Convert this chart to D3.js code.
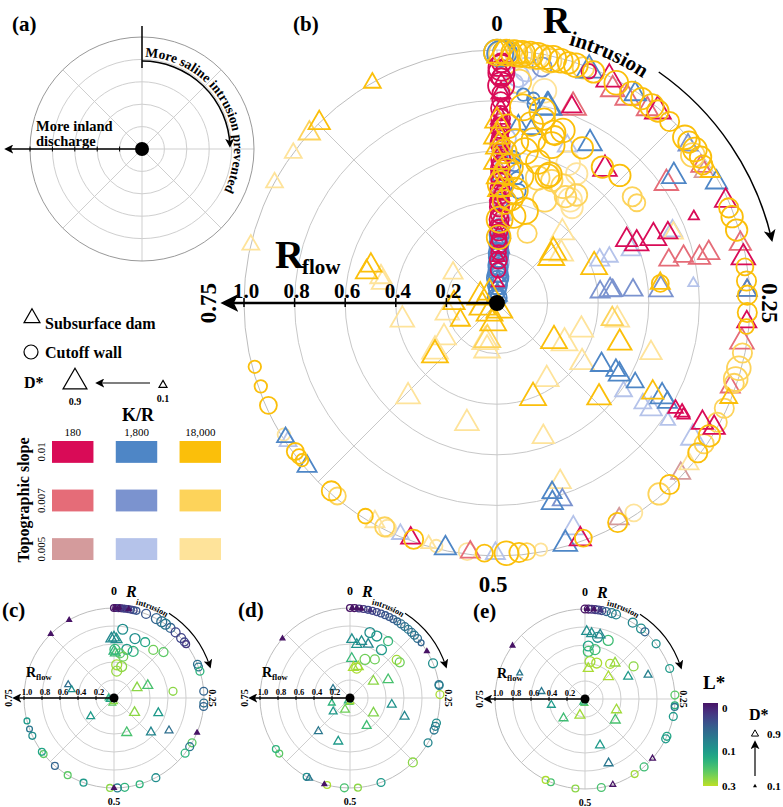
<!DOCTYPE html>
<html><head><meta charset="utf-8">
<script src="https://cdn.jsdelivr.net/npm/d3@7"></script>
<style>body{margin:0;background:#fff}</style>
</head><body>
<script>
// ---------------- DATA ----------------
// Panel (b): rows = [R_intrusion, R_flow, slopeIndex(0:0.01,1:0.007,2:0.005), D*]
const wall18000 = [
 [0.000,0.99,0,0.9],[0.006,0.99,0,0.9],[0.011,0.99,0,0.9],[0.016,0.99,0,0.9],[0.021,0.99,0,0.9],[0.026,0.99,0,0.9],
 [0.031,0.99,0,0.8],[0.036,0.99,0,0.9],[0.041,0.99,0,0.8],[0.046,0.99,0,0.7],[0.051,0.99,0,0.8],[0.056,0.99,1,0.7],
 [0.003,0.985,1,0.9],[0.014,0.985,1,0.9],[0.024,0.985,2,0.9],[0.034,0.98,1,0.8],
 [0.063,0.99,0,0.7],[0.079,0.99,0,0.8],[0.091,0.985,0,0.8],[0.098,0.99,0,0.7],[0.106,0.99,0,0.8],[0.111,0.99,0,0.7],
 [0.121,0.99,0,0.6],[0.135,0.99,0,0.8],[0.139,0.99,0,0.7],[0.145,0.99,0,0.8],[0.151,0.99,0,0.7],[0.147,0.97,1,0.8],
 [0.156,0.98,0,0.6],[0.188,0.99,0,0.6],[0.194,0.99,0,0.7],[0.203,0.99,0,0.7],[0.227,0.99,0,0.5],[0.236,0.99,0,0.6],
 [0.245,0.99,0,0.6],[0.256,0.99,0,0.6],[0.265,0.99,0,0.4],[0.282,0.99,1,0.6],[0.292,0.99,1,0.8],[0.299,0.99,1,0.8],
 [0.302,0.99,1,0.6],[0.319,0.99,1,0.6],[0.329,0.99,1,0.6],[0.339,0.99,0,0.7],[0.345,0.99,1,0.6],[0.352,0.99,0,0.6],
 [0.379,0.99,0,0.6],[0.388,0.99,1,0.7],[0.408,0.99,2,0.5],[0.420,0.99,0,0.6],[0.444,0.99,0,0.5],[0.472,0.99,2,0.3],
 [0.481,0.99,1,0.5],[0.486,0.99,0,0.6],[0.494,0.99,0,0.8],[0.508,0.99,0,0.5],[0.519,0.99,2,0.5],[0.539,0.99,2,0.3],
 [0.554,0.99,0,0.6],[0.572,0.99,2,0.5],[0.574,0.99,1,0.6],[0.588,0.99,0,0.4],[0.610,0.99,1,0.5],[0.615,0.99,0,0.6],
 [0.642,0.99,0,0.3],[0.645,0.99,0,0.4],[0.649,0.99,0,0.5],[0.662,0.99,2,0.3],[0.683,0.99,0,0.5],[0.696,0.99,0,0.3],[0.709,0.99,0,0.3],
 [0.021,0.78,0,0.9],[0.037,0.78,0,0.9],[0.051,0.71,0,0.8],[0.058,0.73,0,0.8],[0.080,0.70,0,0.7],[0.105,0.68,0,0.7],
 [0.122,0.70,0,0.7],[0.040,0.75,0,0.7],[0.053,0.70,0,0.6],[0.015,0.54,0,0.9],[0.029,0.51,0,0.9],[0.060,0.54,0,0.8],
 [0.062,0.55,0,0.8],[0.082,0.53,1,0.8],[0.101,0.53,1,0.7],[0.098,0.50,2,0.8],[0.144,0.68,1,0.6],[0.151,0.68,1,0.5],
 [0.018,0.64,0,0.9],[0.029,0.61,0,0.9],[0.045,0.58,0,0.8],[0.053,0.66,0,0.9],[0.050,0.52,1,0.8],[0.067,0.53,1,0.7],
 [0.069,0.45,1,0.8],[0.091,0.50,1,0.7],[0.106,0.48,2,0.7],[0.005,0.33,0,0.9],[0.047,0.38,0,0.9],[0.005,0.47,0,0.9],
 [0.025,0.45,0,0.9],[0.012,0.40,0,0.8],[0.030,0.35,0,0.8],[0.008,0.60,0,0.8],[0.010,0.70,0,0.8],[0.035,0.66,0,0.8],
 [0.231,0.65,0,0.5],[0.065,0.30,1,0.6],[0.004,0.26,0,0.8],[0.020,0.42,0,0.9],[0.012,0.52,0,0.9],
 [0.016,0.88,1,0.8],[0.035,0.86,2,0.8],[0.075,0.62,2,0.8],[0.088,0.60,2,0.7],[0.030,0.72,0,0.8]
];
const wall1800 = [
 [0.000,0.99,0,0.9],[0.002,0.985,0,0.9],[0.005,0.99,0,0.8],[0.020,0.83,0,0.3],[0.028,0.82,0,0.3],[0.029,0.80,0,0.3],
 [0.015,0.90,2,0.7],[0.020,0.93,2,0.8],[0.012,0.87,2,0.6],[0.030,0.95,1,0.6],
 [0.004,0.25,0,0.5],[0.004,0.20,0,0.6],[0.004,0.15,0,0.6],[0.004,0.10,0,0.7],[0.005,0.05,0,0.5],[0.006,0.30,1,0.5],
 [0.006,0.22,1,0.5],[0.007,0.12,2,0.6],[0.008,0.35,2,0.5],[0.005,0.40,0,0.4],[0.004,0.50,0,0.4],[0.005,0.60,1,0.3],
 [0.018,0.58,0,0.3],[0.020,0.55,0,0.3],[0.030,0.45,0,0.4],[0.025,0.50,0,0.3],[0.006,0.17,0,0.5],[0.006,0.08,1,0.5],
 [0.004,0.02,0,0.6],[0.004,0.07,0,0.6],[0.004,0.12,0,0.6],[0.005,0.14,0,0.6],[0.005,0.18,0,0.6],[0.005,0.23,0,0.6],
 [0.005,0.27,0,0.6],[0.006,0.09,0,0.6],[0.007,0.20,1,0.6],[0.008,0.27,2,0.6],[0.009,0.16,2,0.6],[0.008,0.45,2,0.6],
 [0.009,0.55,2,0.6],[0.009,0.65,2,0.6]
];
const wall180 = [
 [0.003,0.93,0,0.9],[0.003,0.91,0,0.9],[0.003,0.86,0,0.9],[0.003,0.80,0,0.5],[0.003,0.75,0,0.4],[0.003,0.70,0,0.5],
 [0.003,0.65,0,0.5],[0.003,0.60,0,0.4],[0.004,0.55,0,0.5],[0.004,0.50,0,0.6],[0.004,0.45,0,0.6],[0.004,0.40,0,0.6],
 [0.004,0.35,0,0.5],[0.004,0.30,0,0.4],[0.005,0.25,0,0.4],[0.005,0.20,0,0.4],[0.004,0.62,1,0.5],[0.004,0.42,1,0.5],
 [0.005,0.32,2,0.4],[0.004,0.72,1,0.4],[0.060,0.985,0,0.4],[0.003,0.83,0,0.5],[0.003,0.67,0,0.4],[0.004,0.48,0,0.5],
 [0.003,0.95,0,0.6],[0.003,0.89,0,0.6],[0.003,0.77,0,0.6],[0.003,0.73,0,0.6],[0.003,0.69,0,0.6],[0.003,0.63,0,0.6],
 [0.004,0.57,0,0.6],[0.004,0.53,0,0.6],[0.004,0.43,0,0.6],[0.004,0.38,0,0.6],[0.004,0.33,0,0.6],[0.004,0.28,0,0.5],
 [0.005,0.23,0,0.5],[0.005,0.17,0,0.5],[0.005,0.13,0,0.4]
];
const dam180 = [
 [0.003,0.88,0,0.3],[0.003,0.78,0,0.3],[0.003,0.68,0,0.3],[0.004,0.58,0,0.3],[0.004,0.48,0,0.3],[0.004,0.38,0,0.3],
 [0.005,0.28,0,0.3],[0.005,0.18,0,0.3],[0.006,0.08,0,0.3],[0.004,0.63,1,0.3],[0.004,0.53,2,0.3],
 [0.003,0.92,0,0.6],[0.003,0.83,0,0.6],[0.003,0.73,0,0.6],[0.004,0.43,0,0.6],[0.004,0.33,0,0.6],
 [0.074,0.99,0,0.9],[0.111,0.99,0,0.9],[0.183,0.99,0,0.7],[0.221,0.99,0,0.8],[0.333,0.99,0,0.7],[0.446,0.99,0,0.7],
 [0.556,0.99,0,0.6],[0.262,0.99,0,0.6],[0.079,0.96,1,0.8],[0.090,0.96,1,0.8],[0.105,0.97,1,0.7],[0.156,0.97,1,0.6],
 [0.212,0.99,1,0.7],[0.275,0.98,1,0.8],[0.305,0.98,1,0.6],[0.517,0.99,1,0.6],[0.242,0.99,1,0.6],[0.369,0.99,2,0.6],
 [0.418,0.98,2,0.6],[0.160,0.97,2,0.6],
 [0.058,0.83,0,0.6],[0.108,0.68,0,0.8],[0.178,0.57,0,0.7],[0.186,0.60,0,0.8],[0.187,0.67,0,0.9],[0.188,0.73,0,0.6],
 [0.184,0.85,0,0.2],[0.334,0.94,0,0.7],[0.335,0.82,0,0.4],[0.335,0.85,0,0.4],[0.336,0.86,0,0.3],
 [0.059,0.83,1,0.9],[0.152,0.82,1,0.8],[0.211,0.70,1,0.6],[0.211,0.76,1,0.6],[0.215,0.82,1,0.7],[0.213,0.86,1,0.7]
];
const dam1800 = [
 [0.060,0.99,0,0.9],[0.093,0.99,0,0.7],[0.170,0.99,0,0.7],[0.242,0.99,0,0.6],[0.456,0.99,0,0.8],[0.533,0.99,0,0.7],
 [0.637,0.99,0,0.6],[0.660,0.99,0,0.5],[0.657,0.99,2,0.5],[0.563,0.99,2,0.5],[0.501,0.99,2,0.6],[0.140,0.98,1,0.6],
 [0.448,0.94,2,0.7],
 [0.040,0.80,0,0.9],[0.041,0.80,0,0.9],[0.019,0.71,0,0.5],[0.031,0.70,0,0.5],[0.084,0.73,0,0.8],[0.067,0.68,2,0.6],
 [0.151,0.86,0,0.8],[0.190,0.57,2,0.6],[0.188,0.75,2,0.6],[0.187,0.44,2,0.6],[0.188,0.48,2,0.5],[0.234,0.78,2,0.2],
 [0.233,0.41,1,0.6],[0.232,0.45,1,0.7],[0.233,0.46,1,0.6],[0.235,0.54,1,0.6],[0.237,0.65,1,0.8],[0.335,0.48,0,0.7],
 [0.332,0.54,0,0.6],[0.334,0.56,0,0.7],[0.333,0.63,0,0.5],[0.347,0.61,2,0.5],[0.332,0.75,0,0.8],[0.334,0.78,0,0.6],
 [0.346,0.70,2,0.5],[0.346,0.74,2,0.7],[0.346,0.82,2,0.4],[0.346,0.94,2,0.8],[0.455,0.78,0,0.6],[0.449,0.82,1,0.6],
 [0.457,0.82,0,0.7],
 [0.006,0.05,0,0.3],[0.007,0.10,0,0.3],[0.008,0.15,1,0.3],[0.009,0.20,2,0.3],[0.008,0.30,2,0.3],[0.009,0.40,2,0.3],
 [0.010,0.50,2,0.3],[0.010,0.25,1,0.3],
 [0.006,0.03,0,0.6],[0.007,0.13,0,0.6],[0.007,0.22,0,0.6],[0.008,0.28,1,0.6],[0.009,0.35,2,0.6],[0.010,0.45,2,0.6],[0.010,0.60,2,0.6]
];
const dam18000 = [
 [0.002,0.98,0,0.9],[0.008,0.98,0,0.9],[0.013,0.98,0,0.8],[0.020,0.98,1,0.8],[0.162,0.99,0,0.6],[0.312,0.99,0,0.5],
 [0.361,0.99,2,0.6],[0.581,0.99,2,0.6],[0.544,0.99,2,0.4],
 [0.918,1.0,0,0.5],[0.876,1.0,0,0.7],[0.867,1.0,1,0.7],[0.851,1.0,2,0.5],[0.829,1.0,2,0.5],[0.787,1.0,2,0.5],
 [0.000,0.66,0,0.9],[0.000,0.56,0,0.9],[0.002,0.62,0,0.9],[0.002,0.50,0,0.8],[0.004,0.45,0,0.8],[0.000,0.72,0,0.8],
 [0.133,0.30,0,0.9],[0.193,0.41,0,0.9],[0.119,0.38,2,0.8],[0.139,0.28,0,0.9],[0.146,0.32,2,0.8],[0.190,0.75,2,0.6],
 [0.272,0.48,2,0.8],[0.300,0.51,0,0.8],[0.300,0.64,2,0.7],[0.299,0.35,2,0.8],[0.347,0.41,2,0.8],[0.343,0.27,0,0.9],
 [0.335,0.31,2,0.9],[0.408,0.36,2,0.8],[0.442,0.40,0,0.9],[0.369,0.55,0,0.8],[0.333,0.71,0,0.7],[0.447,0.56,2,0.7],
 [0.446,0.75,2,0.7],[0.231,0.65,0,0.6],[0.272,0.46,1,0.7],
 [0.722,0.38,2,0.8],[0.719,0.20,2,0.8],[0.658,0.25,2,0.8],[0.639,0.32,0,0.9],[0.645,0.31,2,0.9],[0.547,0.16,2,0.9],
 [0.533,0.19,2,0.9],[0.621,0.51,2,0.8],[0.539,0.49,2,0.8],[0.787,0.53,0,0.7],[0.778,0.46,2,0.7],[0.796,0.52,0,0.7],
 [0.785,0.47,2,0.7],[0.845,0.21,2,0.6],
 [0.804,0.07,0,0.9],[0.705,0.06,0,0.9],[0.530,0.08,0,0.9],[0.541,0.15,1,0.9],[0.750,0.17,0,0.7],[0.680,0.16,0,0.6],
 [0.900,0.05,0,0.8],[0.600,0.05,0,0.9],[0.450,0.03,0,0.9]
];
// Panels (c)-(e): rows = [R_intrusion, R_flow, L*, D*]
const wallC = [
 [0.000,1,0.0,0.3],[0.004,1,0.0,0.3],[0.008,1,0.005,0.3],[0.012,1,0.0,0.3],[0.016,1,0.005,0.3],[0.020,1,0.01,0.3],
 [0.025,1,0.005,0.3],[0.030,1,0.01,0.3],[0.035,1,0.01,0.3],[0.040,1,0.02,0.3],[0.058,1,0.02,0.5],[0.078,1,0.03,0.6],
 [0.089,1,0.04,0.6],[0.097,1,0.05,0.6],[0.108,1,0.03,0.5],[0.120,1,0.01,0.5],[0.134,1,0.01,0.5],[0.143,1,0.01,0.4],
 [0.148,1,0.005,0.3],[0.189,1,0.04,0.4],[0.194,1,0.05,0.4],[0.202,1,0.15,0.4],[0.238,1,0.03,0.4],[0.259,1,0.04,0.4],
 [0.265,1,0.03,0.4],[0.333,1,0.2,0.4],[0.341,1,0.05,0.4],[0.355,1,0.15,0.4],[0.423,1,0.08,0.4],[0.454,1,0.15,0.3],
 [0.481,1,0.15,0.4],[0.494,1,0.06,0.4],[0.507,1,0.25,0.3],[0.555,1,0.1,0.3],[0.586,1,0.2,0.3],[0.614,1,0.03,0.3],
 [0.643,1,0.2,0.3],[0.648,1,0.12,0.3],[0.681,1,0.08,0.3],[0.694,1,0.05,0.2],[0.709,1,0.1,0.2],
 [0.020,0.77,0.08,0.6],[0.054,0.70,0.08,0.6],[0.081,0.71,0.12,0.5],[0.041,0.56,0.1,0.6],[0.062,0.56,0.15,0.6],
 [0.109,0.69,0.22,0.5],[0.131,0.75,0.2,0.5],[0.232,0.66,0.25,0.4],[0.003,0.54,0.16,0.6],[0.021,0.50,0.2,0.5],
 [0.035,0.47,0.22,0.5],[0.013,0.37,0.27,0.6],[0.038,0.36,0.25,0.6],[0.016,0.30,0.26,0.6]
];
const damC = [
 [0.002,1,0.0,0.1],[0.010,1,0.0,0.1],[0.018,1,0.005,0.1],[0.026,1,0.0,0.1],[0.313,1,0.0,0.1],[0.500,1,0.0,0.1],
 [0.917,1,0.0,0.1],[0.876,1,0.0,0.1],
 [0.000,0.67,0.08,0.7],[0.007,0.65,0.09,0.7],[0.993,0.66,0.07,0.7],[0.000,0.52,0.15,0.6],[0.005,0.50,0.17,0.6],
 [0.184,0.28,0.25,0.6],[0.194,0.40,0.18,0.6],[0.348,0.28,0.25,0.6],[0.302,0.52,0.1,0.5],[0.444,0.41,0.18,0.6],
 [0.369,0.56,0.07,0.5],[0.335,0.71,0.04,0.4],[0.795,0.53,0.04,0.3],[0.781,0.48,0.08,0.3],[0.644,0.33,0.1,0.4],
 [0.750,0.06,0.15,0.3],[0.700,0.05,0.12,0.3],[0.550,0.06,0.2,0.3],[0.500,0.04,0.25,0.3]
];
const wallD = [
 [0.000,1,0.0,0.3],[0.008,1,0.0,0.3],[0.016,1,0.005,0.3],[0.024,1,0.005,0.3],[0.032,1,0.01,0.3],[0.040,1,0.01,0.3],
 [0.048,1,0.01,0.3],[0.056,1,0.015,0.3],[0.064,1,0.02,0.3],[0.072,1,0.02,0.3],[0.080,1,0.025,0.3],[0.088,1,0.03,0.3],
 [0.096,1,0.04,0.4],[0.104,1,0.04,0.4],[0.112,1,0.05,0.4],[0.120,1,0.04,0.4],
 [0.127,1,0.05,0.4],[0.135,1,0.04,0.4],[0.145,1,0.03,0.2],[0.187,1,0.08,0.5],[0.226,1,0.04,0.4],[0.228,1,0.06,0.4],
 [0.244,1,0.28,0.4],[0.295,1,0.08,0.4],[0.301,1,0.06,0.4],[0.308,1,0.05,0.4],[0.333,1,0.07,0.4],[0.377,1,0.25,0.5],
 [0.444,1,0.1,0.4],[0.486,1,0.25,0.3],[0.510,1,0.18,0.4],[0.541,1,0.28,0.3],[0.580,1,0.08,0.3],[0.644,1,0.2,0.3],
 [0.654,1,0.15,0.3],
 [0.047,0.76,0.08,0.6],[0.065,0.75,0.1,0.6],[0.094,0.76,0.16,0.5],[0.092,0.64,0.1,0.6],[0.059,0.46,0.22,0.6],
 [0.091,0.51,0.22,0.5],[0.141,0.67,0.27,0.5],[0.151,0.68,0.22,0.5],[0.035,0.34,0.28,0.6]
];
const damD = [
 [0.004,1,0.0,0.1],[0.012,1,0.0,0.1],[0.020,1,0.0,0.1],[0.036,1,0.005,0.1],[0.163,1,0.0,0.1],[0.546,1,0.0,0.1],
 [0.575,1,0.05,0.3],[0.865,1,0.0,0.1],
 [0.005,0.65,0.08,0.6],[0.020,0.60,0.09,0.6],[0.032,0.64,0.08,0.6],[0.052,0.63,0.07,0.6],[0.007,0.44,0.16,0.6],
 [0.018,0.34,0.28,0.6],[0.041,0.36,0.27,0.6],[0.151,0.32,0.25,0.6],[0.179,0.47,0.18,0.6],[0.275,0.47,0.09,0.5],
 [0.341,0.31,0.24,0.6],[0.302,0.64,0.07,0.5],[0.414,0.36,0.17,0.5],[0.542,0.50,0.1,0.5],[0.621,0.51,0.05,0.4],
 [0.642,0.24,0.1,0.4],[0.707,0.21,0.15,0.3],[0.564,0.14,0.22,0.5],[0.836,0.22,0.05,0.2],[0.520,0.05,0.2,0.3],
 [0.600,0.04,0.15,0.3],[0.480,0.04,0.27,0.3]
];
const wallE = [
 [0.000,1,0.0,0.4],[0.006,1,0.0,0.4],[0.012,1,0.005,0.4],[0.018,1,0.005,0.4],[0.024,1,0.01,0.4],[0.030,1,0.01,0.4],
 [0.038,1,0.03,0.4],[0.048,1,0.05,0.5],[0.056,1,0.07,0.5],
 [0.089,1,0.07,0.5],[0.107,1,0.08,0.5],[0.116,1,0.03,0.4],[0.145,1,0.08,0.4],[0.195,1,0.1,0.4],[0.243,1,0.2,0.4],
 [0.261,1,0.15,0.3],[0.264,1,0.05,0.3],[0.281,1,0.1,0.4],[0.318,1,0.12,0.4],[0.323,1,0.1,0.4],[0.386,1,0.17,0.4],
 [0.407,1,0.27,0.3],[0.471,1,0.18,0.4],[0.517,1,0.25,0.3],[0.562,1,0.18,0.3],[0.572,1,0.28,0.3],
 [0.032,0.70,0.08,0.6],[0.060,0.70,0.17,0.6],[0.010,0.59,0.12,0.6],[0.011,0.53,0.17,0.6],[0.032,0.56,0.17,0.6],
 [0.021,0.42,0.27,0.6],[0.050,0.42,0.28,0.6],[0.099,0.48,0.28,0.5],[0.156,0.65,0.25,0.5]
];
const damE = [
 [0.004,1,0.0,0.1],[0.016,1,0.0,0.1],[0.028,1,0.005,0.1],[0.365,1,0.0,0.2],[0.450,1,0.0,0.2],[0.851,1,0.0,0.1],
 [0.810,0.78,0.05,0.2],
 [0.004,0.75,0.08,0.6],[0.016,0.73,0.08,0.6],[0.037,0.73,0.07,0.6],[0.017,0.34,0.28,0.6],[0.129,0.36,0.28,0.6],
 [0.111,0.52,0.26,0.6],[0.174,0.54,0.1,0.5],[0.192,0.75,0.06,0.4],[0.722,0.38,0.1,0.4],[0.777,0.49,0.05,0.3],
 [0.634,0.32,0.17,0.5],[0.548,0.19,0.27,0.6],[0.303,0.37,0.27,0.6],[0.347,0.41,0.18,0.6],[0.450,0.54,0.1,0.5],
 [0.444,0.76,0.05,0.5],[0.520,0.05,0.2,0.3],[0.580,0.04,0.15,0.3]
];
const ringTicks = [0.2,0.4,0.6,0.8,1.0];
const angleLabels = ["0","0.25","0.5","0.75"];
const krLabels = ["180","1,800","18,000"];
const slopeLabels = ["0.01","0.007","0.005"];
const colorbarTicks = [0,0.1,0.3];

// ---------------- STYLE ----------------
const palette = [["#d90b57","#e56c78","#d49b9c"],["#4e86c6","#7b93cf","#b5c3ea"],["#fbbf0a","#fdd35a","#fee39a"]];
const FONT = "'Liberation Serif','Times New Roman',serif";
const W=783,H=807;
const svg=d3.select("body").append("svg").attr("width",W).attr("height",H).style("font-family",FONT);
const defs=svg.append("defs");
function marker(id,size){
  defs.append("marker").attr("id",id).attr("viewBox","0 0 10 10").attr("refX",8).attr("refY",5)
   .attr("markerWidth",size).attr("markerHeight",size).attr("markerUnits","userSpaceOnUse").attr("orient","auto-start-reverse")
   .append("path").attr("d","M0,0L10,5L0,10L2.5,5Z").attr("fill","#000");
}
marker("ahB",18); marker("ahM",12); marker("ahS",9);

function arcD(cx,cy,r,a0,a1){
  const p=a=>[cx+r*Math.sin(a*Math.PI/180), cy-r*Math.cos(a*Math.PI/180)];
  const [x0,y0]=p(a0),[x1,y1]=p(a1);
  return `M${x0},${y0}A${r},${r} 0 ${a1-a0>180?1:0} 1 ${x1},${y1}`;
}
function tri(s){const h=s*1.15;return `M0,${-h}L${h*0.866},${h*0.5}L${-h*0.866},${h*0.5}Z`;}
function grid(g,R,n,ring,outer){
  for(let k=0;k<8;k++){const a=k*Math.PI/4;
    g.append("line").attr("x1",0).attr("y1",0).attr("x2",R*Math.sin(a)).attr("y2",-R*Math.cos(a)).attr("stroke",ring).attr("stroke-width",1);}
  for(let i=1;i<=n;i++) g.append("circle").attr("r",R*i/n).attr("fill","none").attr("stroke",i===n?outer:ring).attr("stroke-width",1);
}
let pid=0;
function textOnArc(g,cx,cy,r,a0,a1,txt,size){
  const id="tp"+(pid++);
  defs.append("path").attr("id",id).attr("d",arcD(cx,cy,r,a0,a1));
  g.append("text").attr("font-size",size).attr("font-weight","bold")
   .append("textPath").attr("href","#"+id).text(txt);
}

// ---------------- PANEL (a) ----------------
{
  const cx=142,cy=149,R=112;
  const g=svg.append("g").attr("transform",`translate(${cx},${cy})`);
  grid(g,R,5,"#cfcfcf","#999");
  svg.append("text").attr("x",12).attr("y",31).attr("font-size",21).attr("font-weight","bold").text("(a)");
  svg.append("line").attr("x1",cx).attr("y1",26).attr("x2",cx).attr("y2",68).attr("stroke","#000").attr("stroke-width",1.5);
  svg.append("path").attr("d",arcD(cx,cy,88,0,88)).attr("fill","none").attr("stroke","#000").attr("stroke-width",1.5).attr("marker-end","url(#ahS)");
  textOnArc(svg,cx,cy,92,2,175,"More saline intrusion prevented",13.5);
  const ax=d3.scaleLinear().domain([0,1]).range([cx,cx-R]);
  svg.append("line").attr("x1",cx).attr("y1",cy).attr("x2",6).attr("y2",cy).attr("stroke","#000").attr("stroke-width",1.3).attr("marker-end","url(#ahS)");
  ringTicks.forEach(v=>svg.append("line").attr("x1",ax(v)).attr("x2",ax(v)).attr("y1",cy-2.5).attr("y2",cy+2.5).attr("stroke","#000"));
  svg.append("text").attr("x",36).attr("y",131).attr("font-size",14.5).attr("font-weight","bold").text("More inland");
  svg.append("text").attr("x",36).attr("y",146).attr("font-size",14.5).attr("font-weight","bold").text("discharge");
  svg.append("circle").attr("cx",cx).attr("cy",cy).attr("r",7).attr("fill","#000");
}

// ---------------- PANEL (b) ----------------
{
  const cx=497,cy=303,R=253;
  const g=svg.append("g").attr("transform",`translate(${cx},${cy})`);
  grid(g,R,5,"#c8c8c8","#bdbdbd");
  const ang=d3.scaleLinear().domain([0,1]).range([0,2*Math.PI]);
  const rad=d3.scaleLinear().domain([0,1]).range([0,R]);
  const sz=d3.scaleLinear().domain([0.1,0.9]).range([4,13]);
  const sets=[[wall1800,1,"c"],[dam1800,1,"t"],[wall180,0,"c"],[dam180,0,"t"],[wall18000,2,"c"],[dam18000,2,"t"]];
  [2,1,0].forEach(s=>{
    sets.forEach(([arr,k,shape])=>{
      arr.filter(d=>d[2]===s).forEach(d=>{
        const [x,y]=d3.pointRadial(ang(d[0]),rad(d[1]));
        const col=palette[k][s];
        if(shape==="c") g.append("circle").attr("cx",x).attr("cy",y).attr("r",sz(d[3])).attr("fill","none").attr("stroke",col).attr("stroke-width",1.8);
        else g.append("path").attr("d",tri(sz(d[3]))).attr("transform",`translate(${x},${y})`).attr("fill","none").attr("stroke",col).attr("stroke-width",1.8);
      });
    });
  });
  svg.append("text").attr("x",293).attr("y",31).attr("font-size",21).attr("font-weight","bold").text("(b)");
  svg.append("text").attr("x",cx).attr("y",31).attr("text-anchor","middle").attr("font-size",23).attr("font-weight","bold").text(angleLabels[0]);
  svg.append("text").attr("transform",`translate(762,${cy}) rotate(90)`).attr("text-anchor","middle").attr("font-size",23).attr("font-weight","bold").text(angleLabels[1]);
  svg.append("text").attr("x",cx-4).attr("y",592).attr("text-anchor","middle").attr("font-size",23).attr("font-weight","bold").text(angleLabels[2]);
  svg.append("text").attr("transform",`translate(216,${cy}) rotate(-90)`).attr("text-anchor","middle").attr("font-size",23).attr("font-weight","bold").text(angleLabels[3]);
  svg.append("text").attr("x",543).attr("y",33).attr("font-size",38).attr("font-weight","bold").text("R");
  textOnArc(svg,cx,cy,268,15.5,45,"intrusion",21);
  svg.append("path").attr("d",arcD(cx,cy,282,35,77)).attr("fill","none").attr("stroke","#000").attr("stroke-width",1.5).attr("marker-end","url(#ahM)");
  const ax=d3.scaleLinear().domain([0,1]).range([cx,cx-R]);
  svg.append("line").attr("x1",cx).attr("y1",cy).attr("x2",224).attr("y2",cy).attr("stroke","#000").attr("stroke-width",2.5).attr("marker-end","url(#ahB)");
  ringTicks.forEach(v=>{
    svg.append("line").attr("x1",ax(v)).attr("x2",ax(v)).attr("y1",cy-5).attr("y2",cy+4).attr("stroke","#000").attr("stroke-width",1.5);
    svg.append("text").attr("x",ax(v)+2).attr("y",cy-5).attr("text-anchor","middle").attr("font-size",21).attr("font-weight","bold").text(v.toFixed(1));
  });
  svg.append("text").attr("x",275).attr("y",268).attr("font-size",40).attr("font-weight","bold").text("R");
  svg.append("text").attr("x",302).attr("y",274).attr("font-size",21).attr("font-weight","bold").text("flow");
  svg.append("circle").attr("cx",cx).attr("cy",cy).attr("r",8).attr("fill","#000");
}

// ---------------- LEGEND (b) ----------------
{
  const lg=svg.append("g");
  lg.append("path").attr("d",tri(8)).attr("transform","translate(32,318)").attr("fill","none").attr("stroke","#000").attr("stroke-width",1.2);
  lg.append("text").attr("x",45).attr("y",329).attr("font-size",16).attr("font-weight","bold").text("Subsurface dam");
  lg.append("circle").attr("cx",31).attr("cy",352).attr("r",7).attr("fill","none").attr("stroke","#000").attr("stroke-width",1.2);
  lg.append("text").attr("x",45).attr("y",358).attr("font-size",16).attr("font-weight","bold").text("Cutoff wall");
  lg.append("text").attr("x",24).attr("y",388).attr("font-size",16).attr("font-weight","bold").text("D*");
  lg.append("path").attr("d",tri(12)).attr("transform","translate(75,382)").attr("fill","none").attr("stroke","#000").attr("stroke-width",1.2);
  lg.append("text").attr("x",75).attr("y",405).attr("text-anchor","middle").attr("font-size",10).attr("font-weight","bold").text("0.9");
  lg.append("line").attr("x1",150).attr("y1",383).attr("x2",97).attr("y2",383).attr("stroke","#000").attr("stroke-width",1.2).attr("marker-end","url(#ahS)");
  lg.append("path").attr("d",tri(4)).attr("transform","translate(163,385)").attr("fill","none").attr("stroke","#000").attr("stroke-width",1.2);
  lg.append("text").attr("x",163).attr("y",402).attr("text-anchor","middle").attr("font-size",10).attr("font-weight","bold").text("0.1");
  lg.append("text").attr("x",138).attr("y",421).attr("text-anchor","middle").attr("font-size",18).attr("font-weight","bold").text("K/R");
  const colX=d3.scaleBand().domain(krLabels).range([52,221]).paddingInner(0.35);
  const rowY=d3.scaleBand().domain(slopeLabels).range([441,560]).paddingInner(0.55);
  krLabels.forEach((k,i)=>{
    lg.append("text").attr("x",colX(k)+colX.bandwidth()/2).attr("y",436).attr("text-anchor","middle").attr("font-size",11).text(k);
    slopeLabels.forEach((s,j)=>lg.append("rect").attr("x",colX(k)).attr("y",rowY(s)).attr("width",colX.bandwidth()).attr("height",rowY.bandwidth()).attr("fill",palette[i][j]));
  });
  slopeLabels.forEach(s=>lg.append("text").attr("transform",`translate(45,${rowY(s)+rowY.bandwidth()/2}) rotate(-90)`).attr("text-anchor","middle").attr("font-size",11).text(s));
  lg.append("text").attr("transform","translate(29,500) rotate(-90)").attr("text-anchor","middle").attr("font-size",16).attr("font-weight","bold").text("Topographic slope");
}

// ---------------- PANELS (c)-(e) ----------------
const lColor=v=>d3.interpolateViridis(0.05+0.85*Math.sqrt(v/0.3));
function smallPanel(cx,cy,label,dams,walls){
  const R=90;
  const g=svg.append("g").attr("transform",`translate(${cx},${cy})`);
  grid(g,R,5,"#cfcfcf","#bdbdbd");
  const ang=d3.scaleLinear().domain([0,1]).range([0,2*Math.PI]);
  const rad=d3.scaleLinear().domain([0,1]).range([0,R]);
  const sz=d3.scaleLinear().domain([0.1,0.9]).range([2.4,6.5]);
  walls.forEach(d=>{const [x,y]=d3.pointRadial(ang(d[0]),rad(d[1]));
    g.append("circle").attr("cx",x).attr("cy",y).attr("r",sz(d[3])).attr("fill","none").attr("stroke",lColor(d[2])).attr("stroke-width",1.3);});
  dams.forEach(d=>{const [x,y]=d3.pointRadial(ang(d[0]),rad(d[1]));
    g.append("path").attr("d",tri(sz(d[3]))).attr("transform",`translate(${x},${y})`).attr("fill",d[3]<=0.15?lColor(d[2]):"none").attr("stroke",lColor(d[2])).attr("stroke-width",1.3);});
  svg.append("text").attr("x",cx-112).attr("y",cy-81).attr("font-size",21).attr("font-weight","bold").text(label);
  svg.append("text").attr("x",cx).attr("y",cy-103).attr("text-anchor","middle").attr("font-size",12).attr("font-weight","bold").text(angleLabels[0]);
  svg.append("text").attr("x",cx+12).attr("y",cy-101).attr("font-size",16).attr("font-weight","bold").attr("font-style","italic").text("R");
  textOnArc(svg,cx,cy,96,13,45,"intrusion",8.5);
  svg.append("path").attr("d",arcD(cx,cy,101,33,72)).attr("fill","none").attr("stroke","#000").attr("stroke-width",1.2).attr("marker-end","url(#ahS)");
  const ax=d3.scaleLinear().domain([0,1]).range([cx,cx-R]);
  svg.append("line").attr("x1",cx).attr("y1",cy).attr("x2",cx-100).attr("y2",cy).attr("stroke","#000").attr("stroke-width",1.3).attr("marker-end","url(#ahS)");
  ringTicks.forEach(v=>{
    svg.append("line").attr("x1",ax(v)).attr("x2",ax(v)).attr("y1",cy-2).attr("y2",cy+2).attr("stroke","#000");
    svg.append("text").attr("x",ax(v)+3).attr("y",cy-3).attr("text-anchor","middle").attr("font-size",8.5).attr("font-weight","bold").attr("fill","#000").text(v.toFixed(1));
  });
  svg.append("text").attr("x",cx-88).attr("y",cy-21).attr("font-size",14).attr("font-weight","bold").text("R");
  svg.append("text").attr("x",cx-78).attr("y",cy-18).attr("font-size",8.5).attr("font-weight","bold").text("flow");
  svg.append("text").attr("transform",`translate(${cx-102},${cy}) rotate(-90)`).attr("text-anchor","middle").attr("font-size",10).attr("font-weight","bold").text(angleLabels[3]);
  svg.append("text").attr("transform",`translate(${cx+95},${cy}) rotate(90)`).attr("text-anchor","middle").attr("font-size",10).attr("font-weight","bold").text(angleLabels[1]);
  svg.append("text").attr("x",cx).attr("y",cy+107).attr("text-anchor","middle").attr("font-size",10).attr("font-weight","bold").text(angleLabels[2]);
  svg.append("circle").attr("cx",cx).attr("cy",cy).attr("r",4.5).attr("fill","#000");
}
smallPanel(114,698,"(c)",damC,wallC);
smallPanel(350,698,"(d)",damD,wallD);
smallPanel(585,699,"(e)",damE,wallE);

// ---------------- COLORBAR L* & D* ----------------
{
  const y0=703,y1=786,x0=703,w=15;
  const grad=defs.append("linearGradient").attr("id","vir").attr("x1",0).attr("y1",0).attr("x2",0).attr("y2",1);
  d3.range(0,1.0001,0.05).forEach(t=>grad.append("stop").attr("offset",t).attr("stop-color",lColor(0.3*t*t)));
  svg.append("rect").attr("x",x0).attr("y",y0).attr("width",w).attr("height",y1-y0).attr("fill","url(#vir)");
  const cb=d3.scaleSqrt().domain([0,0.3]).range([y0,y1]);
  colorbarTicks.forEach(v=>svg.append("text").attr("x",722).attr("y",Math.min(Math.max(cb(v)+4,y0+9),y1+4)).attr("font-size",11).attr("font-weight","bold").text(v===0?"0":String(v)));
  svg.append("text").attr("x",703).attr("y",689).attr("font-size",19).attr("font-weight","bold").text("L*");
  svg.append("text").attr("x",749).attr("y",720).attr("font-size",16).attr("font-weight","bold").text("D*");
  svg.append("path").attr("d",tri(3.6)).attr("transform","translate(755,734)").attr("fill","none").attr("stroke","#000").attr("stroke-width",1);
  svg.append("text").attr("x",767).attr("y",738).attr("font-size",11).attr("font-weight","bold").text("0.9");
  svg.append("line").attr("x1",755).attr("y1",776).attr("x2",755).attr("y2",742).attr("stroke","#000").attr("stroke-width",1.2).attr("marker-end","url(#ahS)");
  svg.append("path").attr("d",tri(2)).attr("transform","translate(755,786)").attr("fill","#000");
  svg.append("text").attr("x",767).attr("y",790).attr("font-size",11).attr("font-weight","bold").text("0.1");
}
</script>
</body></html>
